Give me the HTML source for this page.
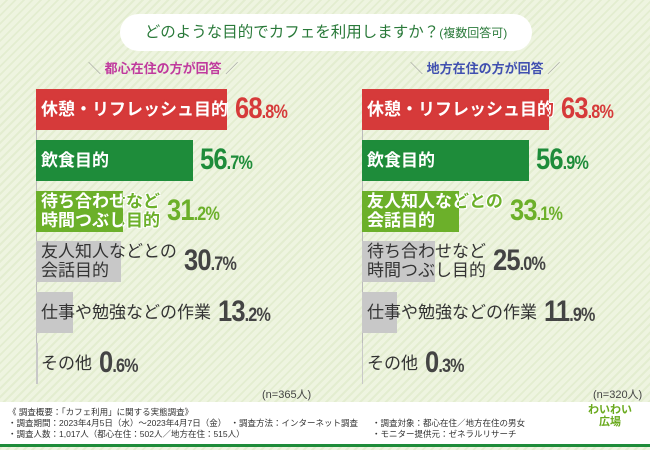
<!DOCTYPE html>
<html><head><meta charset="utf-8"><style>
body{margin:0;width:650px;height:450px;overflow:hidden;font-family:"Liberation Sans","Noto Sans CJK JP",sans-serif;}
#root{position:relative;width:650px;height:450px;background:repeating-linear-gradient(135deg,#eef4e0 0 4px,#e3edd0 4px 6px);}
.pill{position:absolute;left:120px;top:14px;width:412px;height:37px;background:#fff;border-radius:19px;color:#2a7a3a;font-size:15.5px;line-height:37px;text-align:center;}
.sub{position:absolute;top:58px;font-size:13px;font-weight:bold;}
.bar{position:absolute;height:41px;}
.lab{position:absolute;font-size:17px;font-weight:bold;line-height:19px;white-space:nowrap;}
.pct{position:absolute;font-weight:bold;white-space:nowrap;letter-spacing:-1px;transform:scaleX(0.85);transform-origin:left center;}
.n{position:absolute;top:386px;font-size:11px;color:#444;}
.foot{position:absolute;left:0;top:402px;width:650px;height:45px;background:#fff;font-size:8.5px;color:#333;line-height:11px;}
.fl{position:absolute;bottom:0;left:0;width:650px;height:3px;background:#1e8c3a;}
</style></head><body>
<div id="root">
<div class="pill">どのような目的でカフェを利用しますか？<span style="font-size:12px">(複数回答可)</span></div>
<div class="sub" style="left:88px;color:#c03a9e"><span style="color:#999;font-weight:normal">＼ </span>都心在住の方が回答<span style="color:#999;font-weight:normal"> ／</span></div>
<div class="sub" style="left:410px;color:#4050b0"><span style="color:#999;font-weight:normal">＼ </span>地方在住の方が回答<span style="color:#999;font-weight:normal"> ／</span></div>
<div id="plot"></div>
<div class="n" style="left:262px">(n=365人)</div>
<div class="n" style="left:593px">(n=320人)</div>
<div class="foot">
<div style="position:absolute;left:8px;top:5px">《 調査概要：「カフェ利用」に関する実態調査》<br>・調査期間：2023年4月5日（水）～2023年4月7日（金）　・調査方法：インターネット調査<br>・調査人数：1,017人（都心在住：502人／地方在住：515人）</div>
<div style="position:absolute;left:372px;top:16px">・調査対象：都心在住／地方在住の男女<br>・モニター提供元：ゼネラルリサーチ</div>
<div style="position:absolute;left:588px;top:2px;color:#6aaa1e;font-weight:bold;font-size:11px;line-height:12px;text-align:center">わいわい<br>広場</div>
<div class="fl"></div>
</div>
</div>
<script>
const urbanLabels=["休憩・リフレッシュ目的","飲食目的","待ち合わせなど<br>時間つぶし目的","友人知人などとの<br>会話目的","仕事や勉強などの作業","その他"];
const urbanValues=[68.8,56.7,31.2,30.7,13.2,0.6];
const ruralLabels=["休憩・リフレッシュ目的","飲食目的","友人知人などとの<br>会話目的","待ち合わせなど<br>時間つぶし目的","仕事や勉強などの作業","その他"];
const ruralValues=[63.8,56.9,33.1,25.0,11.9,0.3];
const colors=["#d63a3a","#1e8c3a","#6cb02a","#c8c8c8","#c8c8c8","#c8c8c8"];
const pctColors=["#d63a3a","#1e8c3a","#6cb02a","#444","#444","#444"];
const plot=document.getElementById('plot');
function draw(labels,values,x0,scale,side){
  const ax=document.createElement('div');
  
  
  ax.style.cssText=`position:absolute;left:${x0}px;top:89px;width:1px;height:295px;background:#bbb`;
  plot.appendChild(ax);
  values.forEach((v,i)=>{
    const y=89+i*50.8;
    const w=v*scale;
    const b=document.createElement('div');b.className='bar';
    
    
    b.style.cssText=`left:${x0}px;top:${y}px;width:${w}px;background:${colors[i]}`;
    plot.appendChild(b);
    const two=labels[i].includes('<br>');
    const top=y+(two?1:11);
    const c=colors[i];
    let lw;
    if(i<3){
      // outside part: bar-colored text with white outline
      const o=document.createElement('div');o.className='lab';
      
      
      o.innerHTML=labels[i];
      o.style.cssText=`left:${x0+5}px;top:${top}px;color:${c};text-shadow:0 0 2px #fff,1px 1px 0 #fff,-1px -1px 0 #fff,1px -1px 0 #fff,-1px 1px 0 #fff;clip-path:inset(-5px -5px -5px ${w-5}px);`;
      plot.appendChild(o);
      const l=document.createElement('div');l.className='lab';
      
      
      l.innerHTML=labels[i];
      l.style.cssText=`left:${x0+5}px;top:${top}px;color:#fff;text-shadow:0 0 2px ${c},1px 1px 0 ${c},-1px -1px 0 ${c};clip-path:inset(-5px calc(100% - ${w-5}px) -5px -5px);`;
      plot.appendChild(l);
      lw=l.getBoundingClientRect().width;
    }else{
      const l=document.createElement('div');l.className='lab';
      
      
      l.innerHTML=labels[i];
      l.style.cssText=`left:${x0+5}px;top:${top}px;color:#333;font-weight:normal;`;
      plot.appendChild(l);
      lw=l.getBoundingClientRect().width;
    }
    const p=document.createElement('div');p.className='pct';
    
    
    const s=v.toFixed(1).split('.');
    p.innerHTML=`<span style="font-size:30px">${s[0]}</span><span style="font-size:19px">.${s[1]}%</span>`;
    const px=Math.max(x0+w,x0+5+lw)+7;
    p.style.cssText+=`left:${px}px;top:${y+3}px;color:${pctColors[i]}`;
    plot.appendChild(p);
  });
}
draw(urbanLabels,urbanValues,36,2.775,'urban');
draw(ruralLabels,ruralValues,362,2.93,'rural');
</script>
</body></html>
